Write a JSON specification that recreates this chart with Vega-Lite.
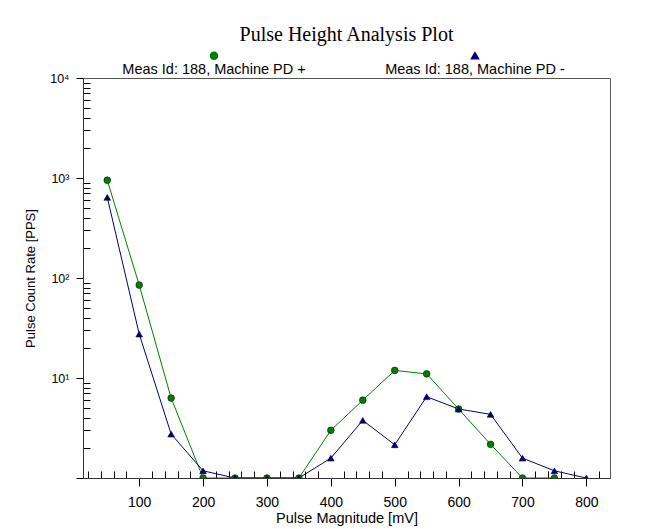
{
  "$schema": "https://vega.github.io/schema/vega-lite/v6.json",
  "width": 527,
  "height": 400,
  "autosize": {"type": "none"},
  "padding": {"left": 83, "top": 78, "right": 39, "bottom": 51},
  "background": "white",
  "title": {
    "text": "Pulse Height Analysis Plot",
    "font": "Liberation Serif",
    "fontSize": 20,
    "fontWeight": "normal",
    "color": "black",
    "anchor": "middle",
    "frame": "group",
    "offset": 4
  },
  "config": {
    "view": {"stroke": "#555555", "strokeWidth": 1},
    "axis": {
      "labelFont": "Liberation Sans",
      "titleFont": "Liberation Sans",
      "titleFontWeight": "normal",
      "labelColor": "black",
      "titleColor": "black",
      "domainColor": "#333333",
      "tickColor": "black",
      "grid": false
    }
  },
  "data": {
    "values": [
      {"mv": 50, "rate": 950, "series": "Meas Id: 188, Machine PD +"},
      {"mv": 100, "rate": 85, "series": "Meas Id: 188, Machine PD +"},
      {"mv": 150, "rate": 6.3, "series": "Meas Id: 188, Machine PD +"},
      {"mv": 200, "rate": 1, "series": "Meas Id: 188, Machine PD +"},
      {"mv": 250, "rate": 1, "series": "Meas Id: 188, Machine PD +"},
      {"mv": 300, "rate": 1, "series": "Meas Id: 188, Machine PD +"},
      {"mv": 350, "rate": 1, "series": "Meas Id: 188, Machine PD +"},
      {"mv": 400, "rate": 3.0, "series": "Meas Id: 188, Machine PD +"},
      {"mv": 450, "rate": 6.0, "series": "Meas Id: 188, Machine PD +"},
      {"mv": 500, "rate": 11.9, "series": "Meas Id: 188, Machine PD +"},
      {"mv": 550, "rate": 11.0, "series": "Meas Id: 188, Machine PD +"},
      {"mv": 600, "rate": 4.9, "series": "Meas Id: 188, Machine PD +"},
      {"mv": 650, "rate": 2.17, "series": "Meas Id: 188, Machine PD +"},
      {"mv": 700, "rate": 1, "series": "Meas Id: 188, Machine PD +"},
      {"mv": 750, "rate": 1, "series": "Meas Id: 188, Machine PD +"},
      {"mv": 50, "rate": 640, "series": "Meas Id: 188, Machine PD -"},
      {"mv": 100, "rate": 27.5, "series": "Meas Id: 188, Machine PD -"},
      {"mv": 150, "rate": 2.75, "series": "Meas Id: 188, Machine PD -"},
      {"mv": 200, "rate": 1.18, "series": "Meas Id: 188, Machine PD -"},
      {"mv": 250, "rate": 1, "series": "Meas Id: 188, Machine PD -"},
      {"mv": 300, "rate": 1, "series": "Meas Id: 188, Machine PD -"},
      {"mv": 350, "rate": 1, "series": "Meas Id: 188, Machine PD -"},
      {"mv": 400, "rate": 1.58, "series": "Meas Id: 188, Machine PD -"},
      {"mv": 450, "rate": 3.77, "series": "Meas Id: 188, Machine PD -"},
      {"mv": 500, "rate": 2.15, "series": "Meas Id: 188, Machine PD -"},
      {"mv": 550, "rate": 6.5, "series": "Meas Id: 188, Machine PD -"},
      {"mv": 600, "rate": 4.9, "series": "Meas Id: 188, Machine PD -"},
      {"mv": 650, "rate": 4.33, "series": "Meas Id: 188, Machine PD -"},
      {"mv": 700, "rate": 1.58, "series": "Meas Id: 188, Machine PD -"},
      {"mv": 750, "rate": 1.18, "series": "Meas Id: 188, Machine PD -"},
      {"mv": 800, "rate": 1, "series": "Meas Id: 188, Machine PD -"}
    ]
  },
  "encoding": {
    "x": {
      "field": "mv",
      "type": "quantitative",
      "scale": {"domain": [12, 837], "nice": false, "zero": false},
      "axis": {
        "title": "Pulse Magnitude [mV]",
        "values": [20, 40, 60, 80, 100, 120, 140, 160, 180, 200, 220, 240, 260, 280, 300, 320, 340, 360, 380, 400, 420, 440, 460, 480, 500, 520, 540, 560, 580, 600, 620, 640, 660, 680, 700, 720, 740, 760, 780, 800, 820],
        "labelExpr": "datum.value % 100 == 0 ? datum.label : ''",
        "tickSize": {"condition": {"test": "datum.value % 100 == 0", "value": 8}, "value": -7},
        "labelFontSize": 14,
        "titleFontSize": 14.5,
        "labelPadding": 9,
        "titlePadding": 2,
        "labelFlush": false,
        "labelOverlap": false
      }
    },
    "y": {
      "field": "rate",
      "type": "quantitative",
      "scale": {"type": "log", "domain": [1, 10000], "nice": false},
      "axis": {
        "title": "Pulse Count Rate [PPS]",
        "values": [1, 2, 3, 4, 5, 6, 7, 8, 9, 10, 20, 30, 40, 50, 60, 70, 80, 90, 100, 200, 300, 400, 500, 600, 700, 800, 900, 1000, 2000, 3000, 4000, 5000, 6000, 7000, 8000, 9000, 10000],
        "labelExpr": "datum.value == 10 ? '10¹' : datum.value == 100 ? '10²' : datum.value == 1000 ? '10³' : datum.value == 10000 ? '10⁴' : ''",
        "tickSize": {"condition": {"test": "indexof([1, 10, 100, 1000, 10000], datum.value) >= 0", "value": 7}, "value": -7},
        "labelFontSize": 12.5,
        "titleFontSize": 13,
        "labelPadding": 7,
        "titlePadding": 12,
        "labelOverlap": false,
        "labelFlush": false
      }
    },
    "color": {
      "field": "series",
      "type": "nominal",
      "scale": {"domain": ["Meas Id: 188, Machine PD +", "Meas Id: 188, Machine PD -"], "range": ["#008000", "#000080"]},
      "legend": {
        "title": null,
        "orient": "none",
        "direction": "horizontal",
        "legendX": 116,
        "legendY": -29,
        "labelFont": "Liberation Sans",
        "labelFontSize": 14.5,
        "labelColor": "black",
        "labelLimit": 400,
        "labelAlign": "center",
        "columnPadding": 79,
        "symbolSize": 50,
        "encode": {
          "symbols": {
            "update": {
              "x": {"value": 15},
              "y": {"value": 6.5}
            }
          },
          "labels": {
            "update": {
              "x": {"value": 15},
              "y": {"value": 21}
            }
          }
        }
      }
    },
    "shape": {
      "field": "series",
      "type": "nominal",
      "scale": {"domain": ["Meas Id: 188, Machine PD +", "Meas Id: 188, Machine PD -"], "range": ["circle", "triangle-up"]}
    }
  },
  "layer": [
    {"mark": {"type": "line", "strokeWidth": 1, "clip": true}},
    {"mark": {"type": "point", "filled": true, "size": 45, "opacity": 1, "stroke": "#111111", "strokeWidth": 0.6, "clip": true}}
  ]
}
